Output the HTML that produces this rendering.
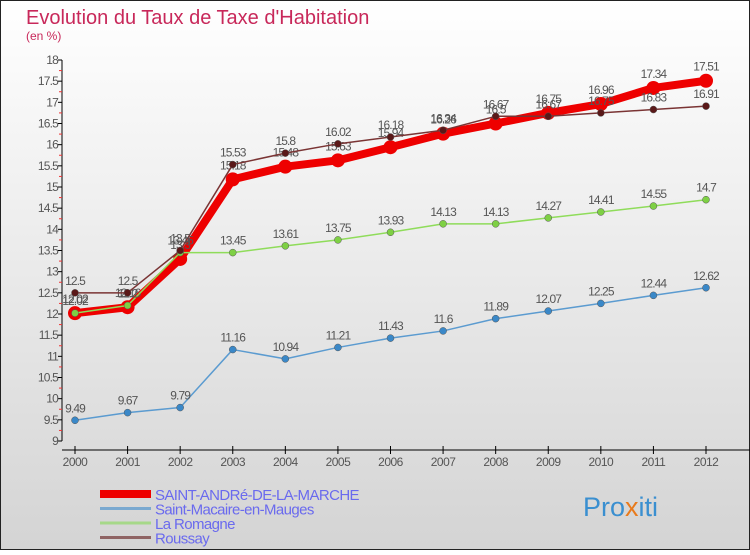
<!DOCTYPE html>
<html><head><meta charset="utf-8"><style>
html,body{margin:0;padding:0}
body{width:750px;height:550px;overflow:hidden;font-family:"Liberation Sans",sans-serif}
</style></head><body>
<svg id="chart" width="750" height="550" xmlns="http://www.w3.org/2000/svg">
<defs><linearGradient id="bg" x1="0" y1="0" x2="0" y2="1"><stop offset="0" stop-color="#ffffff"/><stop offset="1" stop-color="#d4d4d4"/></linearGradient></defs>
<rect x="0.5" y="0.5" width="749" height="549" fill="url(#bg)" stroke="#222"/>
<text x="26" y="24" font-size="20" fill="#c8285a">Evolution du Taux de Taxe d'Habitation</text>
<text x="26" y="40" font-size="12" fill="#c8285a">(en %)</text>
<g id="axes"></g>
<g id="series"></g>
<g id="legend"></g>
<text x="583" y="516" font-size="27"><tspan fill="#3a8fd0">Pro</tspan><tspan fill="#e87a1c">x</tspan><tspan fill="#3a8fd0">iti</tspan></text>
</svg>
<script>
const years=[2000,2001,2002,2003,2004,2005,2006,2007,2008,2009,2010,2011,2012];
const saintAndre=[12.02,12.16,13.3,15.18,15.48,15.63,15.94,16.26,16.5,16.75,16.96,17.34,17.51];
const saintMacaire=[9.49,9.67,9.79,11.16,10.94,11.21,11.43,11.6,11.89,12.07,12.25,12.44,12.62];
const laRomagne=[12.02,12.2,13.45,13.45,13.61,13.75,13.93,14.13,14.13,14.27,14.41,14.55,14.7];
const roussay=[12.5,12.5,13.5,15.53,15.8,16.02,16.18,16.34,16.67,16.67,16.75,16.83,16.91];
const yTicks=[9,9.5,10,10.5,11,11.5,12,12.5,13,13.5,14,14.5,15,15.5,16,16.5,17,17.5,18];
const seriesNames=["SAINT-ANDRé-DE-LA-MARCHE","Saint-Macaire-en-Mauges","La Romagne","Roussay"];
const NS="http://www.w3.org/2000/svg";
const x=i=>75+i*(706-75)/(years.length-1);
const y=v=>441-(v-9)*(441-60)/9;
function mk(p,t,a){const e=document.createElementNS(NS,t);for(const k in a)e.setAttribute(k,a[k]);p.appendChild(e);return e;}
const axes=document.getElementById('axes');
let ya=mk(axes,'line',{x1:62,y1:y(18),x2:62,y2:y(9),stroke:'#000'});


yTicks.forEach(v=>{
 mk(axes,'line',{x1:58,x2:62,y1:y(v),y2:y(v),stroke:'#000'});
 const t=mk(axes,'text',{x:58,y:y(v)+4,'font-size':12,'text-anchor':'end',fill:'#555','letter-spacing':'-0.8'});
 t.textContent=String(v);
 
 
 if(v<18)mk(axes,'line',{x1:59,x2:62,y1:y(v+0.25),y2:y(v+0.25),stroke:'#e33'});
});
let xa=mk(axes,'line',{x1:62,y1:450,x2:750,y2:450,stroke:'#000'});


years.forEach((yr,i)=>{
 mk(axes,'line',{x1:x(i),x2:x(i),y1:446,y2:454,stroke:'#000'});
 const t=mk(axes,'text',{x:x(i),y:466,'font-size':12,'text-anchor':'middle',fill:'#555','letter-spacing':'-0.5'});
 t.textContent=yr;
 
 
});
const sg=document.getElementById('series');
const defs=[
 {d:saintMacaire,c:'#5b9bd0',w:1.5,r:3.5,f:'#3a88c8',n:'saint-macaire'},
 {d:laRomagne,c:'#8fdc5a',w:1.5,r:3.5,f:'#7ed044',n:'la-romagne'},
 {d:roussay,c:'#7a3434',w:1.5,r:3.5,f:'#5a1818',n:'roussay'},
 {d:saintAndre,c:'#ee0000',w:8,r:7,f:'#ee0000',n:'saint-andre'}
];
const order=[3,0,1,2];
order.forEach(k=>{
 const s=defs[k];
 const g=mk(sg,'g',{});
 
 
 const pl=mk(g,'polyline',{points:s.d.map((v,i)=>x(i)+','+y(v)).join(' '),fill:'none',stroke:s.c,'stroke-width':s.w,'stroke-linejoin':'round'});
 
 
 s.d.forEach((v,i)=>{
  const c=mk(g,'circle',{cx:x(i),cy:y(v),r:s.r,fill:s.f,stroke:k==3?'none':'#555','stroke-width':0.5});
  
  
  const t=mk(g,'text',{x:x(i),y:y(v)-(k==3?10:8),'font-size':12,'text-anchor':'middle',fill:'#555','letter-spacing':'-0.9'});
  t.textContent=String(v);
  
  
 });
});
const lg=document.getElementById('legend');
const lc=['#ee0000','#7aa9d0','#a6d889','#8f6464'];
const lw=[8,3,3,3];
seriesNames.forEach((n,i)=>{
 const yy=494+i*14.5;
 const l=mk(lg,'line',{x1:100,x2:151,y1:yy,y2:yy,stroke:lc[i],'stroke-width':lw[i]});
 
 
 const t=mk(lg,'text',{x:155,y:yy+6,'font-size':15,fill:'#6a6aee','letter-spacing':'-0.6'});
 t.textContent=n;
 
 
});
</script>
</body></html>
